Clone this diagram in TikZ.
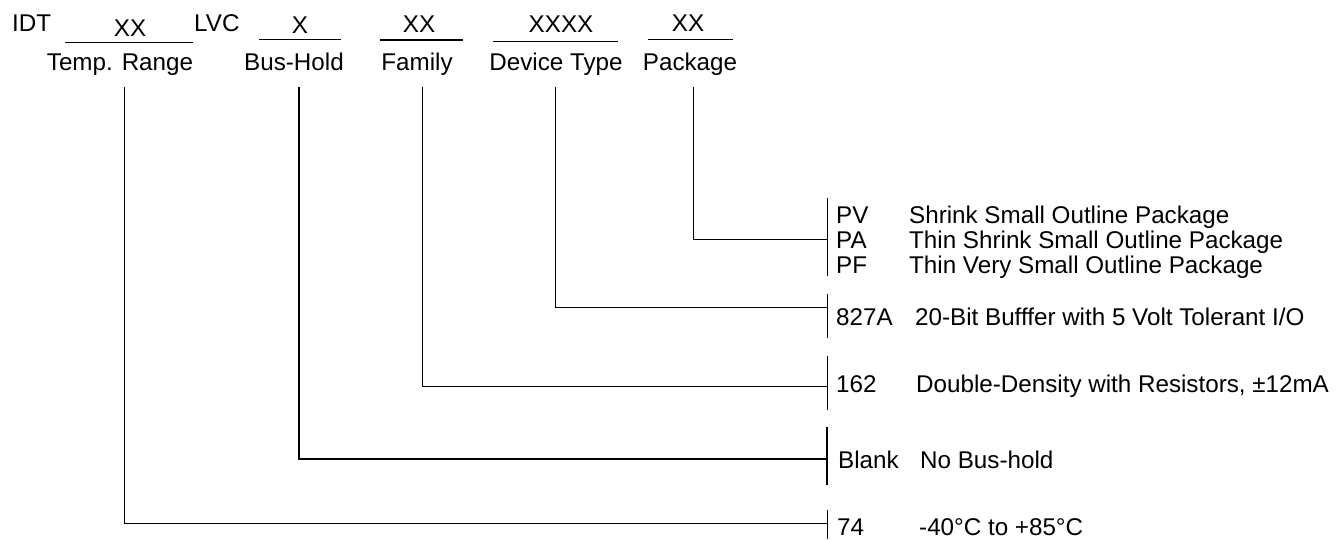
\documentclass[tikz,border=0pt]{standalone}
\usepackage{fontspec}
\setmainfont{Liberation Sans}
\begin{document}
\begin{tikzpicture}[x=1pt,y=-1pt,
  txt/.style={inner sep=0pt, font=\fontsize{24.2}{29}\selectfont},
  ln/.style={line width=1pt},
  thk/.style={line width=1.8pt}]
\useasboundingbox (0,0) rectangle (1336,539);
% top row codes
\node[txt,anchor=base west] (idt) at (12,31.5) {IDT};
\node[txt,anchor=base] (xxt) at (130,36) {XX};
\node[txt,anchor=base west] (lvc) at (194,31.5) {LVC};
\node[txt,anchor=base] (xb) at (300,33) {X};
\node[txt,anchor=base] (xxf) at (419,32) {XX};
\node[txt,anchor=base] (xxxx) at (561,32) {XXXX};
\node[txt,anchor=base] (xxp) at (688,31.5) {XX};
% underlines
\draw[ln] (65,42) -- (193,42);
\draw[ln] (259,39) -- (341,39);
\draw[thk] (380,40) -- (463,40);
\draw[ln] (493,41) -- (618,41);
\draw[ln] (648,39) -- (733,39);
% field labels
\node[txt,anchor=base] (ltemp) at (120,70) {Temp. Range};
\node[txt,anchor=base] (lbus) at (294,70) {Bus-Hold};
\node[txt,anchor=base] (lfam) at (417,70) {Family};
\node[txt,anchor=base] (ldev) at (556,70) {Device Type};
\node[txt,anchor=base] (lpkg) at (690,70) {Package};
% connector ends
\coordinate (ttemp) at (124,87);
\coordinate (tbus) at (299,87);
\coordinate (tfam) at (422,87);
\coordinate (tdev) at (555,87);
\coordinate (tpkg) at (693,87);
\coordinate (etemp) at (827,523);
\coordinate (ebus) at (827,459);
\coordinate (efam) at (827,386);
\coordinate (edev) at (827,307);
\coordinate (epkg) at (827,239);
\draw[ln] (ttemp) |- (etemp);
\draw[thk] (tbus) |- (ebus);
\draw[ln] (tfam) |- (efam);
\draw[ln] (tdev) |- (edev);
\draw[ln] (tpkg) |- (epkg);
% brackets
\draw[ln] (827,198) -- (827,276);
\draw[ln] (827,294) -- (827,338);
\draw[ln] (827,356) -- (827,410);
\draw[thk] (827,427) -- (827,485);
\draw[ln] (827,510) -- (827,539);
% option codes
\node[txt,anchor=base west] (cpv) at (836,223.7) {PV};
\node[txt,anchor=base west] (cpa) at (836,248.7) {PA};
\node[txt,anchor=base west] (cpf) at (836,273.7) {PF};
\node[txt,anchor=base west] (c827) at (836,325.7) {827A};
\node[txt,anchor=base west] (c162) at (836,392) {162};
\node[txt,anchor=base west] (cblank) at (838,468) {Blank};
\node[txt,anchor=base west] (c74) at (837,535.5) {74};
% descriptions
\node[txt,anchor=base west] (dpv) at (909,223.7) {Shrink Small Outline Package};
\node[txt,anchor=base west] (dpa) at (909,248.7) {Thin Shrink Small Outline Package};
\node[txt,anchor=base west] (dpf) at (909,273.7) {Thin Very Small Outline Package};
\node[txt,anchor=base west] (d827) at (915,325.7) {20-Bit Bufffer with 5 Volt Tolerant I/O};
\node[txt,anchor=base west] (d162) at (916,392) {Double-Density with Resistors, ±12mA};
\node[txt,anchor=base west] (dblank) at (920,468) {No Bus-hold};
\node[txt,anchor=base west] (d74) at (919,535.5) {-40°C to +85°C};
\end{tikzpicture}
\end{document}
